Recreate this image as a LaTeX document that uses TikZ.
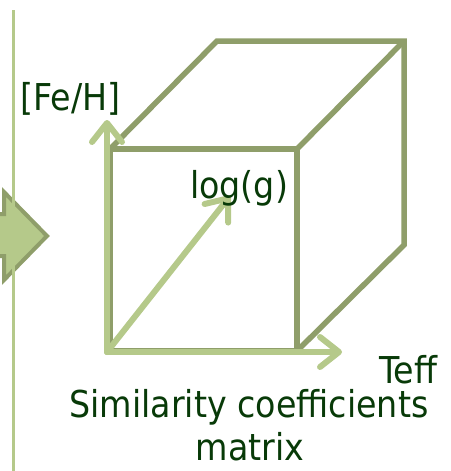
\documentclass[tikz,border=0pt]{standalone}
\usepackage{fontspec}
\setmainfont{DejaVu Sans}[FakeStretch=0.9]
\usetikzlibrary{arrows.meta}
\definecolor{lightg}{RGB}{181,201,138}
\definecolor{darkg}{RGB}{143,158,106}
\definecolor{txtg}{RGB}{8,58,8}
\tikzset{
  axisarrow/.style={draw=lightg, line width=6pt, line cap=round,
    -{Straight Barb[length=19pt,width=30pt,round]}},
  cubeline/.style={draw=darkg, line width=5.5pt, line join=miter},
  lbl/.style={inner sep=0pt, text=txtg, font=\fontsize{37}{40}\selectfont}
}
\begin{document}
\begin{tikzpicture}[x=1pt,y=-1pt]
\useasboundingbox (0,0) rectangle (450,471);
% block arrow
\filldraw[fill=lightg, draw=darkg, line width=4pt, line join=miter]
  (-10,214) -- (4,214) -- (4,192) -- (47,236) -- (4,280) -- (4,256) -- (-10,256) -- cycle;
% separator line
\draw[lightg, line width=3pt] (13,10) -- (13,471);
% cube
\draw[cubeline] (110,149) -- (217,41) -- (404,41) -- (404,245) -- (297,351);
\draw[cubeline] (297,149) -- (404,41);
\draw[cubeline] (110,351) -- (110,149) -- (297,149) -- (297,351) -- cycle;
% axes
\coordinate (o) at (107,352);
\coordinate (fe) at (107,120);
\coordinate (te) at (342,352);
\coordinate (lg) at (230,196);
\draw[axisarrow] (o) -- (fe);
\draw[axisarrow] (o) -- (te);
\draw[axisarrow] (o) -- (lg);
% labels
\node[lbl, anchor=base west] (feh) at (20,110) {[Fe/H]};
\node[lbl, anchor=base west] (logg) at (190,198) {log(g)};
\node[lbl, anchor=base west] (teff) at (379,383) {Teff};
\node[lbl, anchor=base] (sim) at (249,417) {Similarity coefficients};
\node[lbl, anchor=base] (mat) at (250,460) {matrix};
\end{tikzpicture}
\end{document}
